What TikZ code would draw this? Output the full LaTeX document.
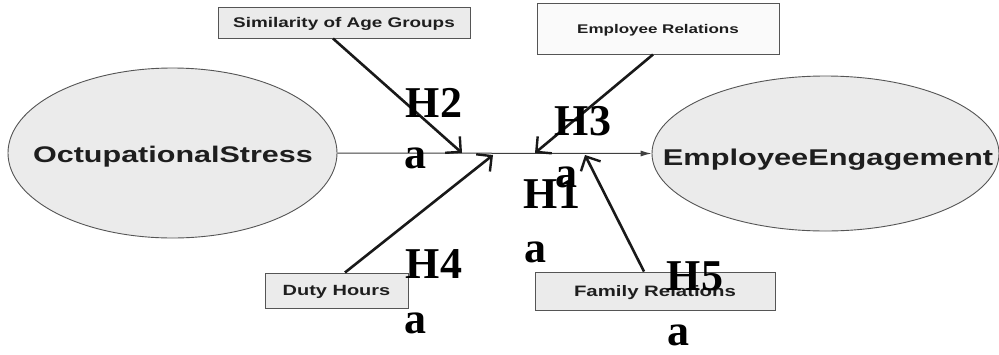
\documentclass[tikz,border=0pt]{standalone}
\usepackage{fontspec}
\usepackage{graphicx}
\setmainfont{Liberation Serif}
\newfontfamily\arialf{Liberation Sans}
\usetikzlibrary{shapes.geometric,arrows.meta}
\definecolor{boxfill}{HTML}{EBEBEB}
\definecolor{erfill}{HTML}{FAFAFA}
\definecolor{edge}{HTML}{555555}
\definecolor{ink}{HTML}{1E1E1E}
\newcommand{\wide}[1]{\scalebox{1.35}[1]{#1}}
\begin{document}
\begin{tikzpicture}[x=1pt,y=-1pt,
  ell/.style={ellipse, draw=edge, line width=0.9pt, fill=boxfill, inner sep=0pt},
  factor/.style={draw=edge, line width=1pt, fill=boxfill, inner sep=0pt, text=ink, text depth=0pt},
  ltext/.style={anchor=base, inner sep=0pt, text=ink},
  hlab/.style={font=\bfseries\fontsize{44}{44}\selectfont, anchor=base, inner sep=0pt},
  effect/.style={line width=2.6pt, draw=black!90, -{Straight Barb[length=11pt,width=22pt,line width=2.4pt]}},
  mainpath/.style={line width=1pt, draw=black!75, -{Latex[length=11pt,width=6pt]}}
]
\useasboundingbox (0,0) rectangle (999,354);
\fill[white] (0,0) rectangle (999,354);

% latent variables
\node[ell, minimum width=329pt, minimum height=170pt] (os) at (172.5,153) {};
\node[ell, minimum width=347pt, minimum height=155pt] (ee) at (825.5,153.5) {};
\node[ltext, font=\arialf\bfseries\fontsize{22.6}{24}\selectfont] (ost) at (173,162) {\wide{OctupationalStress}};
\node[ltext, font=\arialf\bfseries\fontsize{22.8}{24}\selectfont] (eet) at (828,165) {\wide{EmployeeEngagement}};

% moderators
\node[factor, minimum width=252pt, minimum height=31pt, text height=10pt,
      font=\arialf\bfseries\fontsize{14}{16}\selectfont] (sim) at (344,22.5) {\wide{Similarity of Age Groups}};
\node[factor, fill=erfill, minimum width=242pt, minimum height=51pt, text height=9pt,
      font=\arialf\bfseries\fontsize{12.6}{14}\selectfont] (er) at (658,28.5) {\wide{Employee Relations}};
\node[factor, minimum width=143pt, minimum height=35pt, text height=10.6pt,
      font=\arialf\bfseries\fontsize{14.8}{16}\selectfont] (dh) at (336.5,290.5) {\wide{Duty Hours}};
\node[factor, minimum width=240pt, minimum height=38pt, text height=10.8pt,
      font=\arialf\bfseries\fontsize{15.1}{17}\selectfont] (fr) at (655,291) {\wide{Family Relations}};

% main path
\draw[mainpath] (os.east) -- (ee.west);

% points on the main path
\coordinate (p2) at (462,153);
\coordinate (p4) at (493,155);
\coordinate (p3) at (535,153);
\coordinate (p5) at (585,155);

\draw[effect] ([xshift=-11pt]sim.south) -- (p2);
\draw[effect] ([xshift=-5pt]er.south) -- (p3);
\draw[effect] ([xshift=8.5pt]dh.north) -- (p4);
\draw[effect] ([xshift=-11pt]fr.north) -- (p5);

% hypothesis labels
\node[hlab] (h2) at (434,117) {H2};
\node[hlab] (a2) at (415,168) {a};
\node[hlab] (h4) at (434,278) {H4};
\node[hlab] (a4) at (415,333) {a};
\node[hlab] (h3) at (583,135) {H3};
\node[hlab] (a3) at (566,187) {a};
\node[hlab] (h1) at (552,208) {H1};
\node[hlab] (a1) at (535,262) {a};
\node[hlab] (h5) at (695,290) {H5};
\node[hlab] (a5) at (678,345) {a};
\end{tikzpicture}
\end{document}
